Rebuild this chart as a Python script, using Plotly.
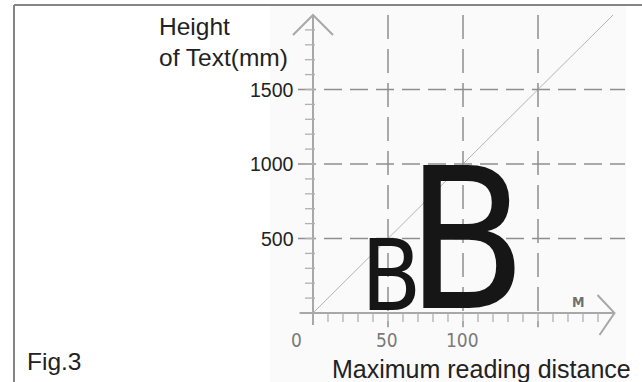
import plotly.graph_objects as go

# reading distance (m) vs height of lettering (mm)
distance_m = [0, 200]
text_height_mm = [0, 2000]

# the two example letters
letter_text = ["B", "B"]
letter_dist = [50, 100]
letter_height = [500, 1000]

grid_x = [50, 100, 150]
grid_y = [500, 1000, 1500]
x_tick_labels = ["0", "50", "100"]
x_tick_vals = [0, 50, 100]
y_tick_labels = ["500", "1000", "1500"]
y_tick_vals = [500, 1000, 1500]
minor_x = list(range(10, 200, 10))
minor_y = list(range(100, 2000, 100))

W, H = 642, 382
X0_PX, Y0_PX = 313, 313     # pixel position of the origin
SX, SY = 1.5, 0.149         # px per unit
xr = [-X0_PX / SX, (W - X0_PX) / SX]
yr = [-(H - Y0_PX) / SY, Y0_PX / SY]

FONT = "Liberation Sans, Arial, sans-serif"
NARROW = "Liberation Sans Narrow, Arial Narrow, DejaVu Sans Condensed, sans-serif"
GRID = "#8e8e8e"
AXIS = "#a8a8a8"

fig = go.Figure()
fig.add_trace(go.Scatter(x=distance_m, y=text_height_mm, mode="lines",
                         line=dict(color="#b4b4b4", width=1), hoverinfo="skip"))

shapes = []
# scanned picture background + frame
shapes.append(dict(type="rect", xref="paper", yref="paper", x0=270 / W, x1=626 / W,
                   y0=0, y1=1 - 5 / H, fillcolor="#fafafa", line_width=0, layer="below"))
shapes.append(dict(type="line", xref="paper", yref="paper", x0=14 / W, x1=14 / W,
                   y0=0, y1=1 - 5 / H, line=dict(color="#858585", width=2)))
shapes.append(dict(type="line", xref="paper", yref="paper", x0=14 / W, x1=1,
                   y0=1 - 5 / H, y1=1 - 5 / H, line=dict(color="#858585", width=2)))

# dashed grid
for gy in grid_y:
    shapes.append(dict(type="line", x0=-10, x1=208, y0=gy, y1=gy,
                       line=dict(color=GRID, width=1.5, dash="18px,8px")))
for gx in grid_x:
    shapes.append(dict(type="line", x0=gx, x1=gx, y0=2000, y1=-95,
                       line=dict(color=GRID, width=1.5, dash="24px,10px")))

# axes with arrow heads
y_top = 2000
x_end = 201
shapes.append(dict(type="line", x0=0, x1=0, y0=-80, y1=y_top, line=dict(color=AXIS, width=2)))
shapes.append(dict(type="line", x0=-9, x1=x_end, y0=0, y1=0, line=dict(color=AXIS, width=2)))
shapes.append(dict(type="path", path=f"M {-20/SX},{y_top-20/SY} L 0,{y_top} L {20/SX},{y_top-20/SY}",
                   line=dict(color=AXIS, width=2)))
shapes.append(dict(type="path",
                   path=f"M {x_end-17/SX},{18/SY} L {x_end},0 L {x_end-15/SX},{-22/SY}",
                   line=dict(color=AXIS, width=2)))

# minor ticks
for mx in minor_x:
    shapes.append(dict(type="line", x0=mx, x1=mx, y0=0, y1=-9 / SY,
                       line=dict(color="#b0b0b0", width=1.3)))
for my in minor_y:
    shapes.append(dict(type="line", x0=-8 / SX, x1=2 / SX, y0=my, y1=my,
                       line=dict(color="#b0b0b0", width=1.3)))

ann = []
# letters, scaled so cap height equals the plotted height
for t, d, h in zip(letter_text, letter_dist, letter_height):
    size = h * SY / 0.76
    ann.append(dict(x=d, y=0, text=t, showarrow=False, xanchor="center", yanchor="bottom",
                    yshift=-(0.212 * size + 1), xshift=3,
                    font=dict(family=NARROW, size=size, color="#161616")))

for v, lab in zip(y_tick_vals, y_tick_labels):
    ann.append(dict(x=0, y=v, text=lab, showarrow=False, xanchor="right", yanchor="middle",
                    xshift=-17, font=dict(family=FONT, size=19.5, color="#222")))
for v, lab in zip(x_tick_vals, x_tick_labels):
    ann.append(dict(x=v, y=0, text=lab, showarrow=False, xanchor="center", yanchor="middle",
                    yshift=-27, xshift=-17 if v == 0 else -1,
                    font=dict(family=NARROW, size=19, color="#7a7a7a")))
ann.append(dict(x=177, y=74, text="<b>M</b>", showarrow=False,
                font=dict(family=NARROW, size=14, color="#707070")))

def paper_text(txt, px, py, size=24.5, anchor="left"):
    return dict(xref="paper", yref="paper", x=px / W, y=1 - py / H, text=txt,
                showarrow=False, xanchor=anchor, yanchor="middle",
                font=dict(family=FONT, size=size, color="#222"))

ann.append(paper_text("Height", 157, 27))
ann.append(paper_text("of Text(mm)", 157, 57))
ann.append(paper_text("Fig.3", 25, 361))
ann.append(paper_text("Maximum reading distance", 330, 369, size=25))

fig.update_layout(
    width=W, height=H, margin=dict(l=0, r=0, t=0, b=0),
    paper_bgcolor="white", plot_bgcolor="white", showlegend=False,
    xaxis=dict(range=xr, visible=False, fixedrange=True),
    yaxis=dict(range=yr, visible=False, fixedrange=True),
    shapes=shapes, annotations=ann,
)
# page body has an 8px margin by default; drop it so the figure sits at 0,0
fig.write_html("out.html", post_script="document.body.style.margin='0';",
               config={"displayModeBar": False})
